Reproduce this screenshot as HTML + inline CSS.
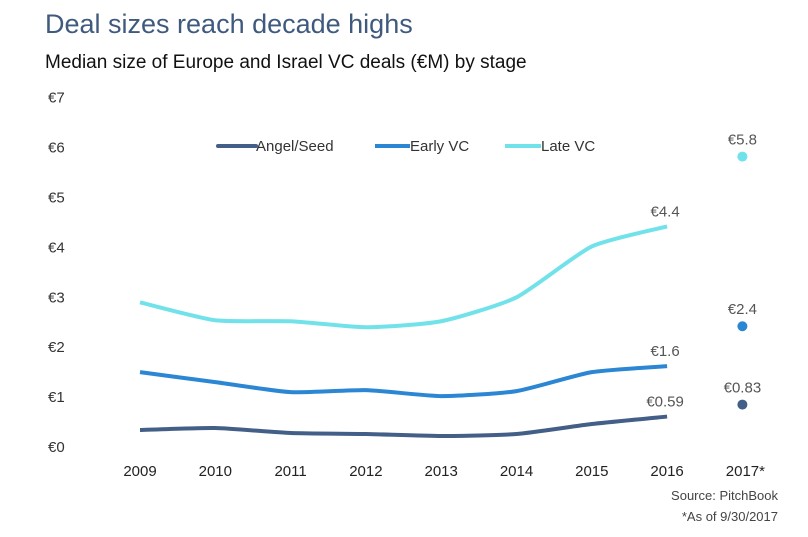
<!DOCTYPE html>
<html><head><meta charset="utf-8"><style>
body{margin:0;background:#fff;width:808px;height:532px;overflow:hidden;font-family:"Liberation Sans",sans-serif}
</style></head><body>
<svg id="chart" width="808" height="532">
<text x="45" y="33" font-size="27" fill="#3f5a7e">Deal sizes reach decade highs</text>
<text x="45" y="68" font-size="19" fill="#111">Median size of Europe and Israel VC deals (€M) by stage</text>
<g id="yaxis"></g>
<g id="xaxis"></g>
<g id="series"></g>
<g>
<line x1="218" y1="146" x2="256" y2="146" stroke="#435f87" stroke-width="4" stroke-linecap="round"/>
<text x="256" y="151" font-size="15" fill="#333">Angel/Seed</text>
<line x1="375" y1="146" x2="410" y2="146" stroke="#2b87d3" stroke-width="4"/>
<text x="410" y="151" font-size="15" fill="#333">Early VC</text>
<line x1="505" y1="146" x2="541" y2="146" stroke="#72e2ea" stroke-width="4"/>
<text x="541" y="151" font-size="15" fill="#333">Late VC</text>
</g>
<text x="778" y="500" font-size="13" fill="#444" text-anchor="end">Source: PitchBook</text>
<text x="778" y="521" font-size="13" fill="#444" text-anchor="end">*As of 9/30/2017</text>
</svg>
<script>
const years=["2009","2010","2011","2012","2013","2014","2015","2016","2017*"];
const angel=[0.32,0.36,0.26,0.24,0.2,0.24,0.44,0.59,0.83];
const early=[1.48,1.28,1.08,1.12,1.0,1.1,1.48,1.6,2.4];
const late=[2.88,2.52,2.5,2.38,2.5,2.98,4.0,4.4,5.8];
const yTicks=[0,1,2,3,4,5,6,7];
const angelLabels=["€0.59","€0.83"];
const earlyLabels=["€1.6","€2.4"];
const lateLabels=["€4.4","€5.8"];
const NS="http://www.w3.org/2000/svg";
const x=i=>140+i*75.3;
const y=v=>446-v*49.9;
function mk(t,a,p){const e=document.createElementNS(NS,t);for(const k in a)e.setAttribute(k,a[k]);p.appendChild(e);return e;}
const ya=document.getElementById('yaxis');
yTicks.forEach(t=>{const e=mk('text',{x:48,y:y(t)+6,'font-size':15,fill:'#333'},ya);e.textContent='€'+t;

});
const xa=document.getElementById('xaxis');
years.forEach((yr,i)=>{const e=mk('text',{x:x(i)+(i==8?3:0),y:476,'font-size':15,fill:'#222','text-anchor':'middle'},xa);e.textContent=yr;

});
const sg=document.getElementById('series');
function smooth(vals){const p=vals.map((v,i)=>[x(i),y(v)]);let d='M'+p[0][0]+','+p[0][1];
for(let i=0;i<p.length-1;i++){const p0=p[i-1]||p[i],p1=p[i],p2=p[i+1],p3=p[i+2]||p2;
const c1=[p1[0]+(p2[0]-p0[0])/10,p1[1]+(p2[1]-p0[1])/10],c2=[p2[0]-(p3[0]-p1[0])/10,p2[1]-(p3[1]-p1[1])/10];
d+=` C${c1[0]},${c1[1]} ${c2[0]},${c2[1]} ${p2[0]},${p2[1]}`;}return d;}
function series(vals,color,name,labels){
const l=mk('path',{d:smooth(vals.slice(0,8)),fill:'none',stroke:color,'stroke-width':4},sg);


const c=mk('circle',{cx:x(8),cy:y(vals[8]),r:5,fill:color},sg);


const t1=mk('text',{x:x(7)-2,y:y(vals[7])-10,'font-size':15,fill:'#555','text-anchor':'middle'},sg);t1.textContent=labels[0];


const t2=mk('text',{x:x(8),y:y(vals[8])-12,'font-size':15,fill:'#555','text-anchor':'middle'},sg);t2.textContent=labels[1];

}
series(late,'#72e2ea','late-vc',lateLabels);
series(early,'#2b87d3','early-vc',earlyLabels);
series(angel,'#435f87','angel-seed',angelLabels);
</script>
</body></html>
